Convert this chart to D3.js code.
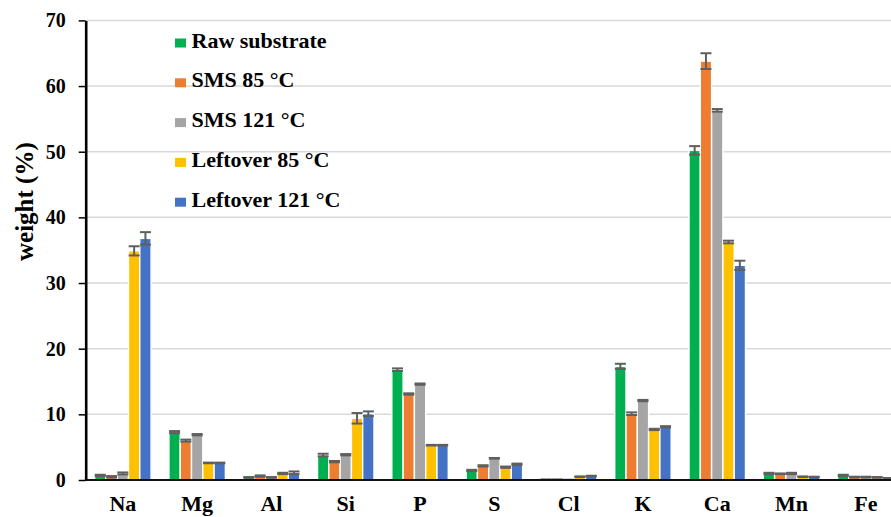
<!DOCTYPE html>
<html>
<head>
<meta charset="utf-8">
<script src="https://cdn.jsdelivr.net/npm/d3@7/dist/d3.min.js"></script>
<style>
  html, body { margin: 0; padding: 0; background: #fff; overflow: hidden; }
  svg { display: block; font-family: "Liberation Serif", "Times New Roman", serif; font-weight: bold; }
</style>
</head>
<body>
<svg id="chart" width="891" height="517"></svg>
<script>
// Elemental composition (weight %) per sample
const categories = ["Na", "Mg", "Al", "Si", "P", "S", "Cl", "K", "Ca", "Mn", "Fe"];
const seriesNames = ["Raw substrate", "SMS 85 °C", "SMS 121 °C", "Leftover 85 °C", "Leftover 121 °C"];
const seriesColors = ["#00B050", "#ED7D31", "#A5A5A5", "#FFC000", "#4472C4"];

const rawSubstrate = [0.7, 7.3, 0.4, 3.8, 16.8, 1.45, 0.05, 17.3, 50.2, 1.0, 0.7];
const sms85 = [0.5, 6.0, 0.6, 2.8, 13.1, 2.15, 0.05, 10.1, 63.8, 0.95, 0.45];
const sms121 = [1.0, 6.9, 0.4, 3.85, 14.6, 3.3, 0.02, 12.1, 56.3, 1.0, 0.45];
const leftover85 = [34.9, 2.6, 1.0, 9.4, 5.3, 1.95, 0.5, 7.7, 36.25, 0.5, 0.4];
const leftover121 = [36.8, 2.6, 1.1, 10.1, 5.3, 2.4, 0.6, 8.1, 32.7, 0.45, 0.25];

// Standard deviations
const rawSubstrateErr = [0.1, 0.15, 0.05, 0.2, 0.2, 0.1, 0.02, 0.4, 0.65, 0.1, 0.1];
const sms85Err = [0.1, 0.15, 0.1, 0.1, 0.1, 0.1, 0.02, 0.2, 1.2, 0.05, 0.05];
const sms121Err = [0.15, 0.1, 0.05, 0.1, 0.1, 0.05, 0.02, 0.1, 0.2, 0.1, 0.05];
const leftover85Err = [0.7, 0.05, 0.1, 0.8, 0.05, 0.1, 0.05, 0.1, 0.2, 0.05, 0.05];
const leftover121Err = [0.95, 0.05, 0.2, 0.35, 0.05, 0.1, 0.05, 0.1, 0.7, 0.05, 0.05];

const yTicks = [0, 10, 20, 30, 40, 50, 60, 70];

const seriesValues = [rawSubstrate, sms85, sms121, leftover85, leftover121];
const seriesErrors = [rawSubstrateErr, sms85Err, sms121Err, leftover85Err, leftover121Err];

const rows = [];
categories.forEach((c, i) => {
  seriesNames.forEach((s, j) => {
    rows.push({ cat: c, series: s, color: seriesColors[j], value: seriesValues[j][i], err: seriesErrors[j][i] });
  });
});

const svg = d3.select("#chart");
const plotLeft = 85.7, plotTop = 20.4, plotBottom = 480;
const bandStep = 74.3;

const x = d3.scaleBand().domain(categories)
  .range([plotLeft, plotLeft + bandStep * categories.length])
  .paddingInner(0).paddingOuter(0);
const xSub = d3.scaleBand().domain(seriesNames)
  .range([0, x.bandwidth()])
  .paddingInner(0).paddingOuter(0.79);
const y = d3.scaleLinear().domain([0, 70]).range([plotBottom, plotTop]);

// Horizontal gridlines
svg.append("g").selectAll("line").data(yTicks.filter(d => d > 0)).join("line")
  .attr("x1", plotLeft).attr("x2", 891)
  .attr("y1", d => y(d)).attr("y2", d => y(d))
  .attr("stroke", "#D9D9D9").attr("stroke-width", 1.5);

// Bars
svg.append("g").selectAll("rect").data(rows).join("rect")
  .attr("x", d => x(d.cat) + xSub(d.series))
  .attr("width", xSub.bandwidth())
  .attr("y", d => y(d.value))
  .attr("height", d => y(0) - y(d.value))
  .attr("fill", d => d.color)
  .attr("stroke", "#fff").attr("stroke-width", 1.4);

// Error bars
const eb = svg.append("g").attr("stroke", "#5F5F5F").attr("stroke-width", 2);
const capHalf = 5.5;
rows.forEach(d => {
  const cx = x(d.cat) + xSub(d.series) + xSub.bandwidth() / 2;
  const yHi = y(d.value + d.err), yLo = y(Math.max(0, d.value - d.err));
  eb.append("line").attr("x1", cx).attr("x2", cx).attr("y1", yHi).attr("y2", yLo);
  eb.append("line").attr("x1", cx - capHalf).attr("x2", cx + capHalf).attr("y1", yHi).attr("y2", yHi);
  eb.append("line").attr("x1", cx - capHalf).attr("x2", cx + capHalf).attr("y1", yLo).attr("y2", yLo);
});

// X axis line
svg.append("line").attr("x1", plotLeft).attr("x2", 891)
  .attr("y1", y(0)).attr("y2", y(0))
  .attr("stroke", "#111").attr("stroke-width", 2.2);

// Y axis
const yAxis = d3.axisLeft(y).tickValues(yTicks).tickSize(7).tickPadding(13).tickSizeOuter(0);
const gy = svg.append("g").attr("transform", `translate(${plotLeft},0)`).call(yAxis);
gy.select(".domain").attr("stroke", "#000").attr("stroke-width", 2.6);
gy.selectAll(".tick line").attr("stroke", "#000").attr("stroke-width", 1.5);
gy.selectAll(".tick text").attr("fill", "#000")
  .style("font-size", "20px").style("font-family", "'Liberation Serif', 'Times New Roman', serif").style("font-weight", "bold");

// Category labels
svg.append("g").selectAll("text").data(categories).join("text")
  .attr("x", d => x(d) + x.bandwidth() / 2)
  .attr("y", 511)
  .attr("text-anchor", "middle")
  .style("font-size", "22px")
  .text(d => d);

// Y axis title
svg.append("text")
  .attr("transform", "translate(32.5,261) rotate(-90)")
  .attr("text-anchor", "start")
  .style("font-size", "25px")
  .text("weight (%)");

// Legend
const legend = svg.append("g").selectAll("g").data(seriesNames).join("g")
  .attr("transform", (d, i) => `translate(175,${47.5 + i * 39.8})`);
legend.append("rect").attr("x", 0).attr("y", -9).attr("width", 11).attr("height", 9)
  .attr("fill", (d, i) => seriesColors[i]);
legend.append("text").attr("x", 16.5).attr("y", 0)
  .style("font-size", "22px")
  .text(d => d);
</script>
</body>
</html>
